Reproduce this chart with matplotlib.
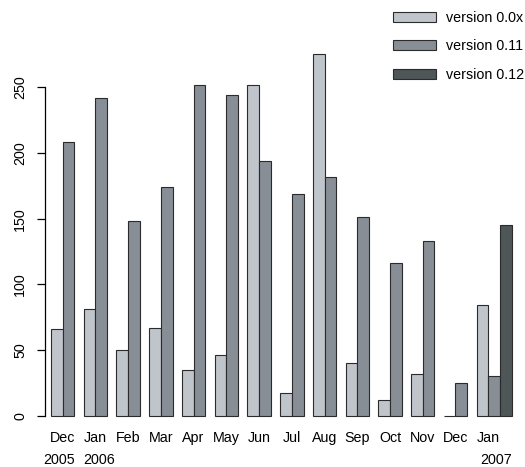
import numpy as np
import matplotlib
matplotlib.use("Agg")
import matplotlib.pyplot as plt

plt.rcParams['font.family'] = ['Liberation Sans', 'DejaVu Sans']

# monthly counts per release line
months = ['Dec', 'Jan', 'Feb', 'Mar', 'Apr', 'May', 'Jun',
          'Jul', 'Aug', 'Sep', 'Oct', 'Nov', 'Dec', 'Jan']
years = ['2005', '2006', '', '', '', '', '', '', '', '', '', '', '', '2007']
v00x = [66, 81, 50, 67, 35, 46, 252, 17, 275, 40, 12, 32, 0, 84]
v011 = [208, 242, 148, 174, 252, 244, 194, 169, 182, 151, 116, 133, 25, 30]
v012 = [np.nan] * 13 + [145]

series_names = ['version 0.0x', 'version 0.11', 'version 0.12']
colors = ['#c0c4cb', '#878e95', '#4e5658']
edge = '#2b2b2b'
fs = 10.3

W, H = 525, 467
fig = plt.figure(figsize=(W / 100, H / 100), dpi=100)

# plot region in pixels (R style margins)
px_left, px_right, px_top, px_bottom = 45, 520, 20, 425
ax = fig.add_axes([px_left / W, 1 - px_bottom / H,
                   (px_right - px_left) / W, (px_bottom - px_top) / H])

# bar geometry: width 1, space 0.8 between groups (like barplot space=c(0,0.8))
bar_px = 11.69
y_px = 1.3136
x0_px = 51
y0_px = 415.7
ax.set_xlim((px_left - x0_px) / bar_px, (px_right - x0_px) / bar_px)
ax.set_ylim(-(px_bottom - y0_px) / y_px, (y0_px - px_top) / y_px)

group_left = np.arange(len(months)) * 2.8

ax.bar(group_left, v00x, width=1, align='edge', color=colors[0],
       edgecolor=edge, linewidth=0.8, label=series_names[0])
ax.bar(group_left + 1, v011, width=1, align='edge', color=colors[1],
       edgecolor=edge, linewidth=0.8, label=series_names[1])
v012 = np.array(v012, dtype=float)
has12 = ~np.isnan(v012)
ax.bar(group_left[has12] + 2, v012[has12], width=1, align='edge', color=colors[2],
       edgecolor=edge, linewidth=0.8, label=series_names[2])

for s in ['top', 'right', 'bottom']:
    ax.spines[s].set_visible(False)
ax.spines['left'].set_bounds(0, 250)
ax.spines['left'].set_linewidth(0.9)
ax.set_yticks(np.arange(0, 251, 50))
ax.tick_params(axis='y', length=5.8, width=0.9, pad=7, labelsize=fs)
for lbl in ax.get_yticklabels():
    lbl.set_rotation(90)
    lbl.set_va('center')

ax.set_xticks(group_left + 1)
ax.set_xticklabels(months, fontsize=fs)
ax.tick_params(axis='x', length=0, pad=4.5)

# year labels on a second line, placed next to their month groups
year_y = -(460 - px_bottom) / (px_bottom - px_top)
trans = ax.get_xaxis_transform()
for i, yr in enumerate(years):
    if not yr:
        continue
    if i == 0:
        ax.text(group_left[i] + 2, year_y, yr, ha='right', va='center',
                fontsize=fs, transform=trans, clip_on=False)
    elif i == len(years) - 1:
        ax.text(group_left[i] + 3, year_y, yr, ha='right', va='center',
                fontsize=fs, transform=trans, clip_on=False)
    else:
        ax.text(group_left[i], year_y, yr, ha='left', va='center',
                fontsize=fs, transform=trans, clip_on=False)

fig.legend(loc='upper left', bbox_to_anchor=(392.7 / W, 1 - 11 / H),
           frameon=False, fontsize=fs, handlelength=3.0, handleheight=0.7,
           handletextpad=0.76, labelspacing=1.0, borderpad=0, borderaxespad=0)

fig.savefig('out.png', dpi=100)
